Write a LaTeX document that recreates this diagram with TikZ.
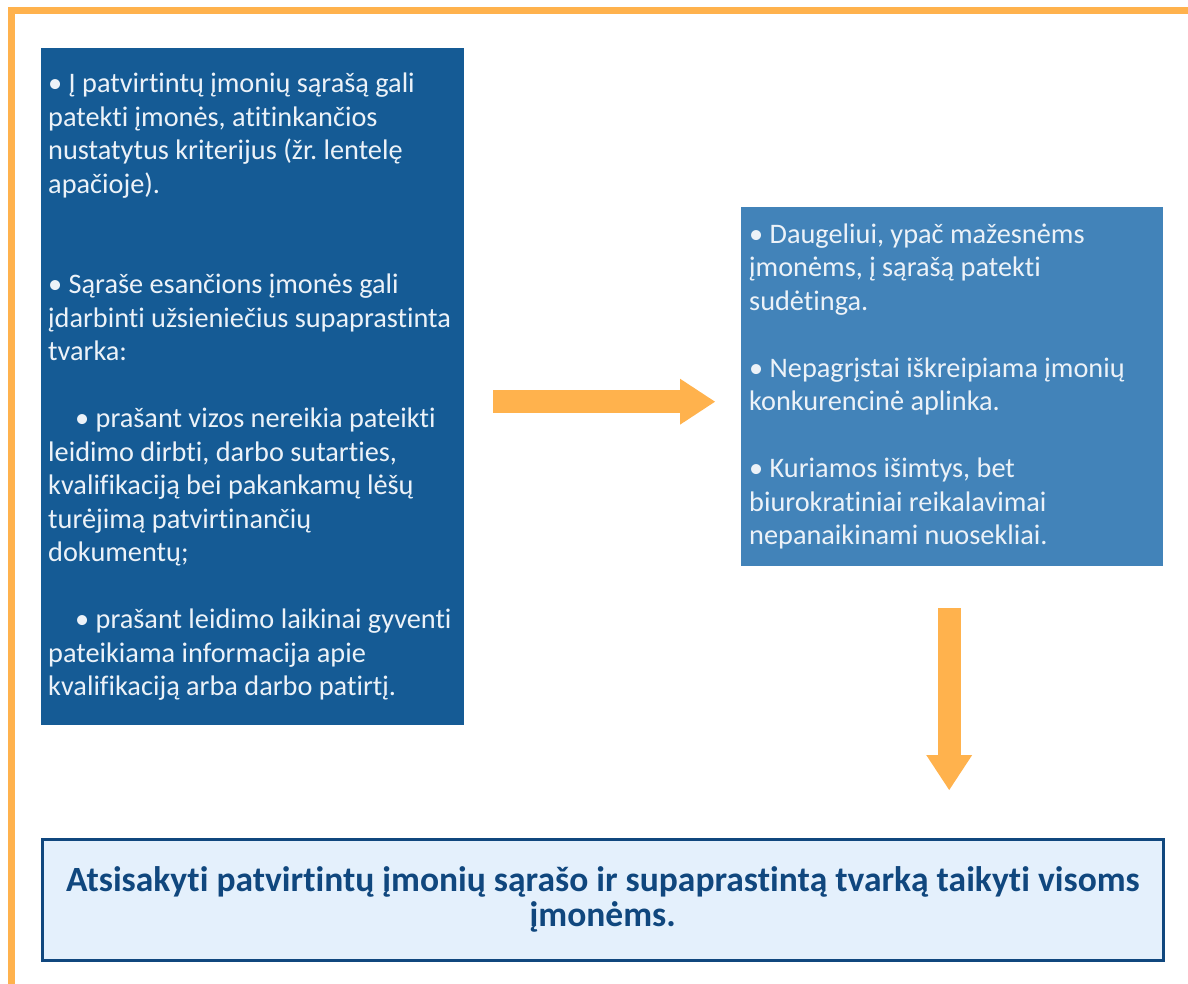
\documentclass[tikz,border=0pt]{standalone}
\usepackage{fontspec}
\setmainfont{Carlito}[Ligatures=NoCommon]
\frenchspacing
\usetikzlibrary{arrows.meta,calc}
\definecolor{frameorange}{RGB}{255,178,77}
\definecolor{darkbox}{RGB}{21,91,149}
\definecolor{lightbox}{RGB}{66,131,185}
\definecolor{paleblue}{RGB}{228,240,252}
\definecolor{navytext}{RGB}{16,71,126}
\definecolor{boxtext}{RGB}{236,242,248}
\newcommand{\wordgap}{\spaceskip=0.226em\xspaceskip=0.226em\relax}
\begin{document}
\begin{tikzpicture}[x=1pt,y=-1pt]
	\tikzstyle{every node}+=[inner sep=0pt]
	\tikzstyle{textbox}=[anchor=north west, align=left, text=boxtext, font=\fontsize{28.3}{33.5}\selectfont]
	\tikzstyle{bigarrow}=[frameorange, line width=23pt, -{Triangle[width=46pt,length=35pt,line width=0pt]}]
	\useasboundingbox (0,0) rectangle (1188,984);
	% frame
	\draw [frameorange, line width=7pt] (1188,10.5) -- (11.5,10.5) -- (11.5,984);
	% boxes
	\node [textbox, fill=darkbox, minimum width=423pt, minimum height=677pt, text width=409pt, inner xsep=7pt] (lbox) at (41,48) {\wordgap
		• Į patvirtintų įmonių sąrašą gali\\
		patekti įmonės, atitinkančios\\
		nustatytus kriterijus (žr. lentelę\\
		apačioje).\\
		\mbox{}\\
		\mbox{}\\
		• Sąraše esančions įmonės gali\\
		įdarbinti užsieniečius supaprastinta\\
		tvarka:\\
		\mbox{}\\
		\hspace*{27pt}• prašant vizos nereikia pateikti\\
		leidimo dirbti, darbo sutarties,\\
		kvalifikaciją bei pakankamų lėšų\\
		turėjimą patvirtinančių\\
		dokumentų;\\
		\mbox{}\\
		\hspace*{27pt}• prašant leidimo laikinai gyventi\\
		pateikiama informacija apie\\
		kvalifikaciją arba darbo patirtį.};
	\node [textbox, fill=lightbox, minimum width=422pt, minimum height=359pt, text width=406pt, inner xsep=8pt] (rbox) at (741,207) {\wordgap
		• Daugeliui, ypač mažesnėms\\
		įmonėms, į sąrašą patekti\\
		sudėtinga.\\
		\mbox{}\\
		• Nepagrįstai iškreipiama įmonių\\
		konkurencinė aplinka.\\
		\mbox{}\\
		• Kuriamos išimtys, bet\\
		biurokratiniai reikalavimai\\
		nepanaikinami nuosekliai.};
	\node [anchor=north west, draw=navytext, line width=2.5pt, fill=paleblue, minimum width=1121pt, minimum height=121pt, text width=1100pt, align=center, text=navytext, font=\fontsize{35.5}{35}\selectfont\bfseries] (bbox) at (41,838) {\wordgap
		Atsisakyti patvirtintų įmonių sąrašo ir supaprastintą tvarką taikyti visoms\\
		įmonėms.};
	% arrows
	\draw [bigarrow] ($(lbox.east)+(29,15)$) -- ($(rbox.west)+(-26,15)$);
	\draw [bigarrow] ($(rbox.south)+(-3,42)$) -- ($(rbox.south |- bbox.north)+(-3,-48)$);
\end{tikzpicture}
\end{document}
